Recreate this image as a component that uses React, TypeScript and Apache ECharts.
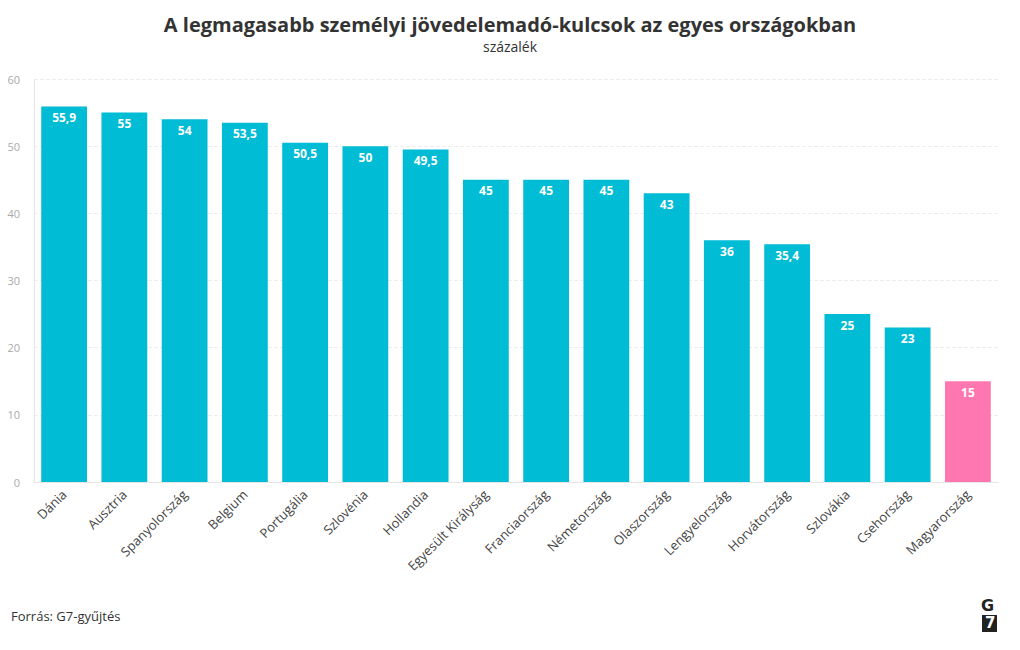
import React, { useEffect, useRef } from "react";
import * as echarts from "echarts";

const categories = ["Dánia","Ausztria","Spanyolország","Belgium","Portugália","Szlovénia","Hollandia","Egyesült Királyság","Franciaország","Németország","Olaszország","Lengyelország","Horvátország","Szlovákia","Csehország","Magyarország"];
const values = [55.9,55,54,53.5,50.5,50,49.5,45,45,45,43,36,35.4,25,23,15];
const highlight = "Magyarország";
const yTicks = { min: 0, max: 60, interval: 10 };

export default function App() {
  const ref = useRef<HTMLDivElement>(null);
  useEffect(() => {
    const chart = echarts.init(ref.current!, null, { renderer: "svg" });
    const font = "'Open Sans', sans-serif";
    chart.setOption({
      animation: false,
      backgroundColor: "#ffffff",
      title: [
        {
          text: "A legmagasabb személyi jövedelemadó-kulcsok az egyes országokban",
          left: "center",
          top: 9,
          textStyle: { fontFamily: font, fontSize: 20, fontWeight: "bold", color: "#333" },
        },
        {
          text: "százalék",
          left: "center",
          top: 34,
          textStyle: { fontFamily: font, fontSize: 14, fontWeight: "normal", color: "#333" },
        },
      ],
      grid: { left: 34, right: 22, top: 79, bottom: 168, containLabel: false },
      xAxis: {
        type: "category",
        data: categories,
        axisLine: { lineStyle: { color: "#e6e6e6" } },
        axisTick: { alignWithLabel: true, lineStyle: { color: "#ccc" }, length: 5 },
        axisLabel: { rotate: 45, fontFamily: font, fontSize: 13, color: "#444", margin: 10, interval: 0 },
      },
      yAxis: {
        type: "value",
        min: yTicks.min,
        max: yTicks.max,
        interval: yTicks.interval,
        axisLine: { show: true, lineStyle: { color: "#e6e6e6" } },
        axisTick: { show: false },
        axisLabel: { fontFamily: font, fontSize: 11, color: "#aaa", margin: 14 },
        splitLine: { lineStyle: { color: "#eeeeee", type: "dashed" } },
      },
      series: [{
        type: "bar",
        data: categories.map((c, i) => ({
          value: values[i],
          itemStyle: { color: c === highlight ? "#ff77b0" : "#00bcd4" },
        })),
        barCategoryGap: "24%",
        label: {
          show: true,
          position: "insideTop",
          distance: 5,
          color: "#fff",
          fontFamily: font,
          fontWeight: "bold",
          fontSize: 12,
          formatter: (p: any) => String(p.value).replace(".", ","),
        },
      }],
      graphic: [
        { type: "text", left: 11, top: 609, style: { text: "Forrás: G7-gyűjtés", fontFamily: font, fontSize: 13, fill: "#333" } },
        { type: "text", left: 981, top: 597, style: { text: "G", fontFamily: "'DejaVu Sans', sans-serif", fontWeight: "bold", fontSize: 16, fill: "#222" } },
        { type: "rect", left: 982, top: 615, shape: { width: 15, height: 17 }, style: { fill: "#222" } },
        { type: "text", left: 985, top: 615, style: { text: "7", fontFamily: "'DejaVu Sans', sans-serif", fontWeight: "bold", fontSize: 15, fill: "#fff" } },
      ],
    });
    return () => chart.dispose();
  }, []);
  return <div ref={ref} style={{ width: 1020, height: 650, position: "absolute", left: 0, top: 0 }} />;
}
